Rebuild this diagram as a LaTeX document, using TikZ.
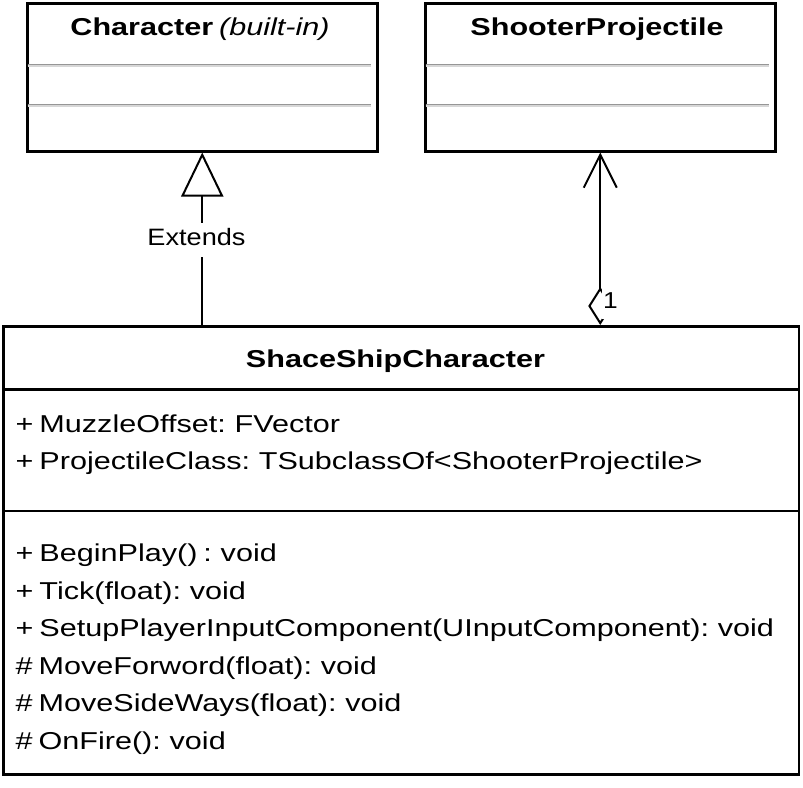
\documentclass[tikz,border=0pt]{standalone}
\usepackage{fontspec}
\setmainfont{Liberation Sans}[FakeStretch=1.253, WordSpace=0.7]
\newfontfamily\lblfont{Liberation Sans}[FakeStretch=1.145]
\usetikzlibrary{arrows.meta}
\definecolor{sepgray}{RGB}{150,150,150}
\definecolor{sepshade}{RGB}{215,215,215}
\tikzset{
  classbox/.style={draw=black, line width=2.5pt, fill=white, inner sep=0pt, anchor=north west},
  txt/.style={font=\fontsize{24.4}{29}\selectfont, inner sep=0pt, anchor=base west},
  ttl/.style={font=\fontsize{24.4}{29}\selectfont\bfseries, inner sep=0pt, anchor=base},
  lbl/.style={fill=white, inner ysep=0pt},
  conn/.style={draw=black, line width=2pt},
  sepline/.style={draw=black, line width=2.5pt},
}
\begin{document}
\begin{tikzpicture}[x=1pt,y=-1pt]
\useasboundingbox (0,0) rectangle (803,787);
% boxes
\node[classbox, minimum width=350pt, minimum height=148pt] (char) at (26,2) {};
\node[classbox, minimum width=350pt, minimum height=148pt] (shooter) at (424,2) {};
\node[classbox, minimum width=795.5pt, minimum height=448pt] (main) at (2,325) {};
% gray compartment lines in top boxes
\foreach \yy in {64.5,104.5} {
  \draw[sepshade, line width=1.5pt] (27.5,\yy+1.6) -- (371,\yy+1.6);
  \draw[sepgray, line width=1.6pt] (27.5,\yy) -- (371,\yy);
  \draw[sepshade, line width=1.5pt] (425.5,\yy+1.6) -- (769,\yy+1.6);
  \draw[sepgray, line width=1.6pt] (425.5,\yy) -- (769,\yy);
}
% main box dividers
\draw[sepline] (main.west |- 0,389.5) -- (main.east |- 0,389.5);
\draw[sepline] (main.west |- 0,511) -- (main.east |- 0,511);
% titles
\node[ttl] (chartitle) at (200,35) {Character \textmd{\itshape (built-in)}};
\node[ttl] (shootertitle) at (597,35) {ShooterProjectile};
\node[ttl] (maintitle) at (395.5,367) {ShaceShipCharacter};
% attributes
\node[txt] (a1) at (15.5,432) {+ MuzzleOffset: FVector};
\node[txt] (a2) at (15.5,469.6) {+ ProjectileClass: TSubclassOf<ShooterProjectile>};
% methods
\node[txt] (m1) at (15.5,561.5) {+ BeginPlay() : void};
\node[txt] (m2) at (15.5,599.1) {+ Tick(float): void};
\node[txt] (m3) at (15.5,636.7) {+ SetupPlayerInputComponent(UInputComponent): void};
\node[txt] (m4) at (15.5,674.3) {\# MoveForword(float): void};
\node[txt] (m5) at (15.5,711.9) {\# MoveSideWays(float): void};
\node[txt] (m6) at (15.5,749.5) {\# OnFire(): void};
% generalization
\draw[conn, -{Triangle[open, length=44pt, width=42pt]}] (char.south |- main.north) -- (char.south);
\node[lbl, font=\lblfont\fontsize{23.7}{28}\selectfont, inner xsep=0pt, anchor=base,
      text height=22.3pt, text depth=11.7pt] (extends) at (196.5,245) {Extends};
% association with aggregation
\draw[conn, {Diamond[open, length=38pt, width=24pt]}-{Straight Barb[length=33pt, width=33pt]}] (shooter.south |- main.north) -- (shooter.south);
\node[lbl, font=\lblfont\fontsize{23}{27}\selectfont, inner xsep=1.5pt, anchor=base west,
      text height=24pt, text depth=11pt] (mult) at (601.5,308) {1};
\end{tikzpicture}
\end{document}
